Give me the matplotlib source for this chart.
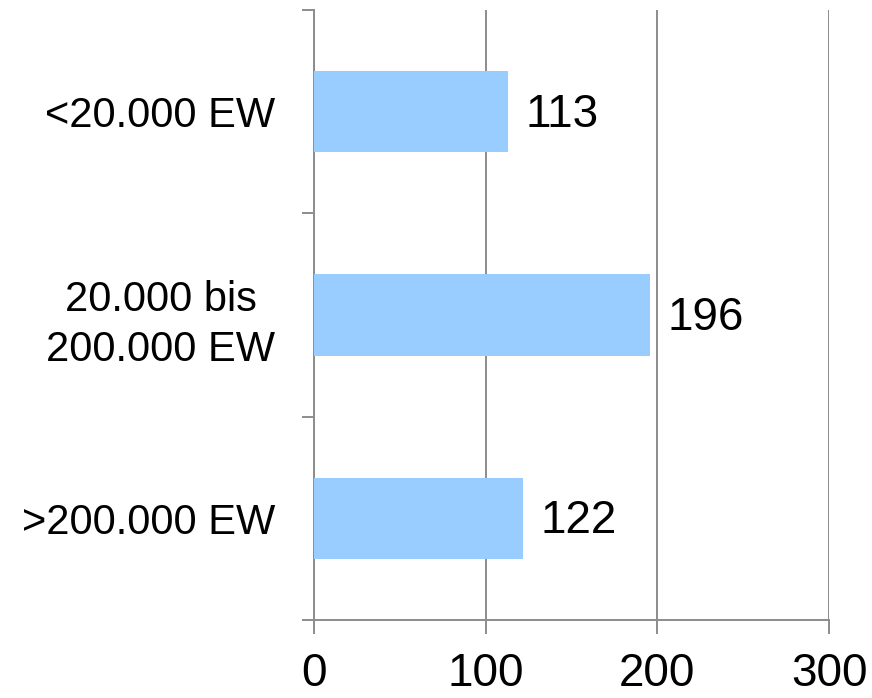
import matplotlib.pyplot as plt
from matplotlib.ticker import FixedLocator

plt.rcParams['font.family'] = ['Liberation Sans', 'DejaVu Sans']

categories = ['<20.000 EW', '20.000 bis\n200.000 EW', '>200.000 EW']
counts = [113, 196, 122]
x_ticks = [0, 100, 200, 300]

bar_color = '#99ccff'
line_gray = '#8c8c8c'

fig = plt.figure(figsize=(8.72, 6.98), dpi=100)
ax = fig.add_axes([0.360, 0.1117, 0.5907, 0.874])

pos = list(range(len(categories)))
bars = ax.barh(pos, counts, height=0.4, color=bar_color, zorder=3)

for b, v in zip(bars, counts):
    ax.text(b.get_width() + 10, b.get_y() + b.get_height() / 2 + 0.015, str(v),
            va='center', ha='left', fontsize=33, color='black')

ax.set_xlim(0, 300)
ax.set_ylim(2.5, -0.5)
ax.set_xticks(x_ticks)
ax.set_xticklabels([str(t) for t in x_ticks], fontsize=33)
ax.set_yticks(pos)
ax.set_yticklabels(categories, fontsize=30)
for lbl in ax.get_yticklabels():
    lbl.set_multialignment('center')
    lbl.set_linespacing(1.35)

# boundary ticks between the category slots
ax.yaxis.set_minor_locator(FixedLocator([-0.5, 0.5, 1.5, 2.5]))
ax.tick_params(axis='y', which='major', length=0, pad=28)
ax.tick_params(axis='y', which='minor', length=9, width=1.4, color=line_gray)
ax.tick_params(axis='x', length=10, width=1.4, color=line_gray, pad=13)

ax.grid(axis='x', color=line_gray, linewidth=1.4, zorder=0)
ax.set_axisbelow(True)

for side in ['top', 'right']:
    ax.spines[side].set_visible(False)
for side in ['left', 'bottom']:
    ax.spines[side].set_color(line_gray)
    ax.spines[side].set_linewidth(1.4)

fig.savefig('out.png', dpi=100)
